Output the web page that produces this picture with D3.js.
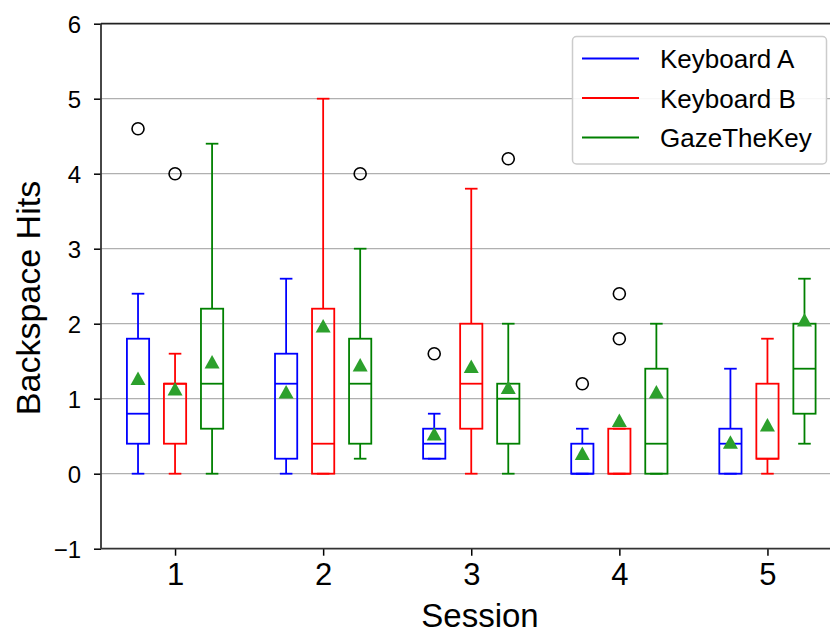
<!DOCTYPE html>
<html><head><meta charset="utf-8">
<script src="https://cdn.jsdelivr.net/npm/d3@7"></script>
<style>
html,body{margin:0;padding:0;background:#fff;}
svg{display:block;font-family:"Liberation Sans",Arial,sans-serif;}
</style></head>
<body><svg id="chart" width="830" height="636"></svg>
<script>
const sessions = [1, 2, 3, 4, 5];
const seriesNames = ["Keyboard A", "Keyboard B", "GazeTheKey"];
const seriesColors = ["#0000ff", "#ff0000", "#008000"];
const yTicks = [-1, 0, 1, 2, 3, 4, 5, 6];

// Keyboard A per session
const kbA_whiskerLow = [0, 0, 0.2, 0, 0];
const kbA_q1        = [0.4, 0.2, 0.2, 0, 0];
const kbA_median    = [0.8, 1.2, 0.4, 0, 0.4];
const kbA_q3        = [1.8, 1.6, 0.6, 0.4, 0.6];
const kbA_whiskerHigh = [2.4, 2.6, 0.8, 0.6, 1.4];
const kbA_mean      = [1.27, 1.09, 0.53, 0.27, 0.42];
const kbA_outliers  = [[4.6], [], [1.6], [1.2], []];

// Keyboard B per session
const kbB_whiskerLow = [0, 0, 0, 0, 0];
const kbB_q1        = [0.4, 0, 0.6, 0, 0.2];
const kbB_median    = [1.2, 0.4, 1.2, 0, 0.2];
const kbB_q3        = [1.2, 2.2, 2.0, 0.6, 1.2];
const kbB_whiskerHigh = [1.6, 5.0, 3.8, 0.6, 1.8];
const kbB_mean      = [1.13, 1.97, 1.43, 0.71, 0.65];
const kbB_outliers  = [[4.0], [], [], [2.4, 1.8], []];

// GazeTheKey per session
const gtk_whiskerLow = [0, 0.2, 0, 0, 0.4];
const gtk_q1        = [0.6, 0.4, 0.4, 0, 0.8];
const gtk_median    = [1.2, 1.2, 1.0, 0.4, 1.4];
const gtk_q3        = [2.2, 1.8, 1.2, 1.4, 2.0];
const gtk_whiskerHigh = [4.4, 3.0, 2.0, 2.0, 2.6];
const gtk_mean      = [1.49, 1.45, 1.15, 1.09, 2.05];
const gtk_outliers  = [[], [4.0], [4.2], [], []];

const seriesStats = [
  {lo: kbA_whiskerLow, q1: kbA_q1, med: kbA_median, q3: kbA_q3, hi: kbA_whiskerHigh, mean: kbA_mean, out: kbA_outliers},
  {lo: kbB_whiskerLow, q1: kbB_q1, med: kbB_median, q3: kbB_q3, hi: kbB_whiskerHigh, mean: kbB_mean, out: kbB_outliers},
  {lo: gtk_whiskerLow, q1: gtk_q1, med: gtk_median, q3: gtk_q3, hi: gtk_whiskerHigh, mean: gtk_mean, out: gtk_outliers}
];
const offsets = [-0.25, 0, 0.25];

(function () {
const svg = d3.select("#chart");
const pLeft = 101, pRight = 841.5, pTop = 23.7, pBottom = 548.7;
const x = d3.scaleLinear().domain([0.5, 5.5]).range([pLeft, pRight]);
const y = d3.scaleLinear().domain([-1, 6]).range([pBottom, pTop]);

// grid
svg.append("g").selectAll("line").data(yTicks.filter(d => d > -1 && d < 6)).join("line")
  .attr("x1", pLeft).attr("x2", pRight)
  .attr("y1", d => y(d)).attr("y2", d => y(d))
  .attr("stroke", "#b0b0b0").attr("stroke-width", 1.2);

// y axis
const yAxis = svg.append("g").attr("transform", `translate(${pLeft},0)`)
  .call(d3.axisLeft(y).tickValues(yTicks).tickSize(7).tickPadding(13)
    .tickFormat(d => d < 0 ? "\u2212" + Math.abs(d) : String(d)));
yAxis.select(".domain").remove();
yAxis.selectAll(".tick line").attr("stroke", "#000").attr("stroke-width", 1.5);
yAxis.selectAll(".tick text").attr("font-size", 24).attr("fill", "#000")
  .attr("font-family", '"Liberation Sans",Arial,sans-serif').attr("dy", "0.35em");

// x axis
const xAxis = svg.append("g").attr("transform", `translate(0,${pBottom})`)
  .call(d3.axisBottom(x).tickValues(sessions).tickSize(7).tickPadding(7).tickFormat(d3.format("d")));
xAxis.select(".domain").remove();
xAxis.selectAll(".tick line").attr("stroke", "#000").attr("stroke-width", 1.5);
xAxis.selectAll(".tick text").attr("font-size", 31).attr("fill", "#000")
  .attr("font-family", '"Liberation Sans",Arial,sans-serif');

// spines
svg.append("line").attr("x1", pLeft).attr("x2", pLeft).attr("y1", pTop).attr("y2", pBottom)
  .attr("stroke", "#333").attr("stroke-width", 1.8);
svg.append("line").attr("x1", pLeft).attr("x2", pRight).attr("y1", pBottom).attr("y2", pBottom)
  .attr("stroke", "#333").attr("stroke-width", 1.8);
svg.append("line").attr("x1", pLeft).attr("x2", pRight).attr("y1", pTop).attr("y2", pTop)
  .attr("stroke", "#222").attr("stroke-width", 1.8);
svg.append("line").attr("x1", pRight).attr("x2", pRight).attr("y1", pTop).attr("y2", pBottom)
  .attr("stroke", "#222").attr("stroke-width", 1.8);

// boxes
const boxW = x(0.15) - x(0);
const capW = x(0.085) - x(0);
const lw = 1.8;
seriesStats.forEach((s, si) => {
  const col = seriesColors[si];
  const g = svg.append("g");
  sessions.forEach((sess, i) => {
    const cx = x(sess + offsets[si]);
    g.append("line").attr("x1", cx).attr("x2", cx).attr("y1", y(s.q3[i])).attr("y2", y(s.hi[i]))
      .attr("stroke", col).attr("stroke-width", lw);
    g.append("line").attr("x1", cx).attr("x2", cx).attr("y1", y(s.q1[i])).attr("y2", y(s.lo[i]))
      .attr("stroke", col).attr("stroke-width", lw);
    [s.hi[i], s.lo[i]].forEach(v => {
      g.append("line").attr("x1", cx - capW / 2).attr("x2", cx + capW / 2)
        .attr("y1", y(v)).attr("y2", y(v)).attr("stroke", col).attr("stroke-width", lw);
    });
    g.append("rect").attr("x", cx - boxW / 2).attr("width", boxW)
      .attr("y", y(s.q3[i])).attr("height", y(s.q1[i]) - y(s.q3[i]))
      .attr("fill", "none").attr("stroke", col).attr("stroke-width", lw);
    g.append("line").attr("x1", cx - boxW / 2).attr("x2", cx + boxW / 2)
      .attr("y1", y(s.med[i])).attr("y2", y(s.med[i])).attr("stroke", col).attr("stroke-width", lw);
    s.out[i].forEach(v => {
      g.append("circle").attr("cx", cx).attr("cy", y(v)).attr("r", 6)
        .attr("fill", "none").attr("stroke", "#000").attr("stroke-width", 1.6);
    });
  });
});
// means
seriesStats.forEach((s, si) => {
  sessions.forEach((sess, i) => {
    const cx = x(sess + offsets[si]);
    svg.append("path").attr("d", "M0,-7L7.5,6.5L-7.5,6.5Z")
      .attr("transform", `translate(${cx},${y(s.mean[i])})`)
      .attr("fill", "#2ca02c");
  });
});

// axis labels
svg.append("text").attr("x", 480).attr("y", 627).attr("text-anchor", "middle")
  .attr("font-size", 33).attr("fill", "#000").text("Session");
svg.append("text").attr("transform", "translate(40,298) rotate(-90)").attr("text-anchor", "middle")
  .attr("font-size", 34).attr("fill", "#000").text("Backspace Hits");

// legend
const lg = svg.append("g");
lg.append("rect").attr("x", 572.5).attr("y", 36.5).attr("width", 254).attr("height", 127.5)
  .attr("rx", 4).attr("fill", "#fff").attr("fill-opacity", 0.9).attr("stroke", "#cccccc").attr("stroke-width", 1.5);
seriesNames.forEach((name, i) => {
  const ly = 58.5 + i * 39.5;
  lg.append("line").attr("x1", 582).attr("x2", 639).attr("y1", ly).attr("y2", ly)
    .attr("stroke", seriesColors[i]).attr("stroke-width", 2.2);
  lg.append("text").attr("x", 660).attr("y", ly + 9.5).attr("font-size", 26).attr("fill", "#000").text(name);
});
})();
</script></body></html>
